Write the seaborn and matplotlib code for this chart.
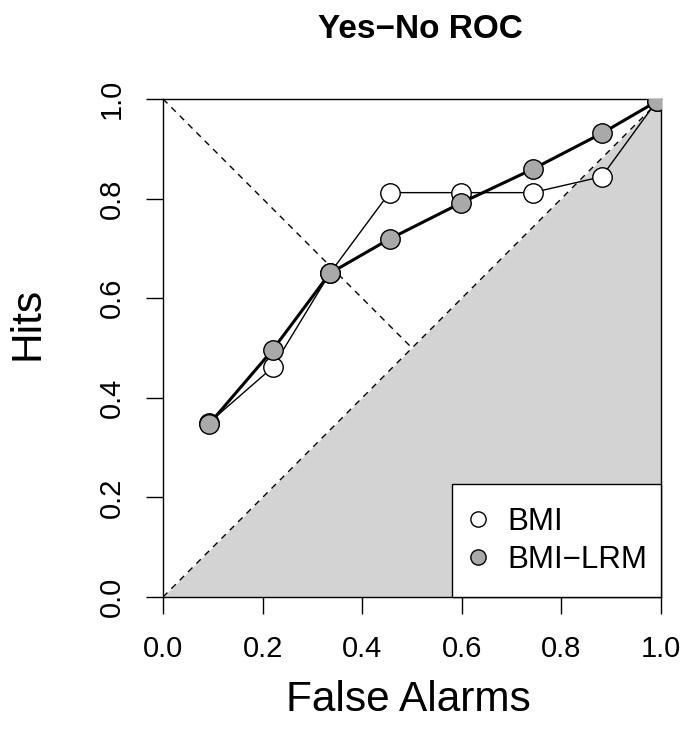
import numpy as np
import pandas as pd
import matplotlib
matplotlib.use("Agg")
import matplotlib.pyplot as plt
from matplotlib.lines import Line2D
import seaborn as sns

# ROC points
false_alarms = [0.0925, 0.220, 0.335, 0.455, 0.598, 0.742, 0.881, 0.991]
hits_bmi = [0.350, 0.461, 0.650, 0.812, 0.812, 0.812, 0.844, 0.995]
hits_bmi_lrm = [0.347, 0.496, 0.650, 0.719, 0.791, 0.859, 0.931, 0.995]
series_names = ["BMI", "BMI\u2212LRM"]
tick_values = [0.0, 0.2, 0.4, 0.6, 0.8, 1.0]
tick_labels = ["0.0", "0.2", "0.4", "0.6", "0.8", "1.0"]

sns.set_style("white")
plt.rcParams["font.family"] = ["Liberation Sans", "DejaVu Sans"]
plt.rcParams["text.color"] = "black"
plt.rcParams["xtick.color"] = "black"
plt.rcParams["ytick.color"] = "black"

df_bmi = pd.DataFrame({"fa": false_alarms, "hits": hits_bmi})
df_lrm = pd.DataFrame({"fa": false_alarms, "hits": hits_bmi_lrm})

fig = plt.figure(figsize=(6.83, 7.47), dpi=100)
ax = fig.add_axes([163 / 683, 1 - 597 / 747, 498 / 683, 498 / 747])

# chance region below the diagonal
ax.fill_between([0, 1], [0, 0], [0, 1], color="#D3D3D3", linewidth=0, zorder=0)
ax.plot([0, 1], [0, 1], color="black", lw=1, dashes=(4.5, 4), zorder=1)
ax.plot([0, 0.5], [1, 0.5], color="black", lw=1, dashes=(4.5, 4), zorder=1)

sns.lineplot(data=df_bmi, x="fa", y="hits", ax=ax, color="black", lw=1,
             marker="o", markersize=14, markerfacecolor="white",
             markeredgecolor="black", markeredgewidth=1, estimator=None, zorder=3)
sns.lineplot(data=df_lrm, x="fa", y="hits", ax=ax, color="black", lw=2.2,
             marker="o", markersize=14, markerfacecolor="#A9A9A9",
             markeredgecolor="black", markeredgewidth=1, estimator=None, zorder=4)

ax.set_xlim(0, 1)
ax.set_ylim(0, 1)
ax.set_xticks(tick_values)
ax.set_xticklabels(tick_labels)
ax.set_yticks(tick_values)
ax.set_yticklabels(tick_labels, rotation=90, va="center")
ax.set_xlabel("")
ax.set_ylabel("")
for s in ax.spines.values():
    s.set_color("black")
    s.set_linewidth(1)
ax.tick_params(axis="both", direction="out", length=12.5, width=1, color="black",
               labelsize=21, labelcolor="black", bottom=True, left=True)
ax.tick_params(axis="x", pad=15)
ax.tick_params(axis="y", pad=14)

handles = [Line2D([], [], marker="o", linestyle="none", markersize=11,
                  markerfacecolor=c, markeredgecolor="black", markeredgewidth=1)
           for c in ["white", "#A9A9A9"]]
leg = ax.legend(handles, series_names, loc="lower left",
                bbox_to_anchor=(0.58, 0, 0.42, 0.3), mode="expand",
                borderaxespad=0, fancybox=False, edgecolor="black",
                framealpha=1, fontsize=22.5, handlelength=0.25,
                handletextpad=0.8, borderpad=0.72, labelspacing=0.25)
leg.get_frame().set_linewidth(1)
for t in leg.get_texts():
    t.set_color("black")

fig.text(420 / 683, 1 - 30 / 747, "Yes\u2212No ROC", ha="center", va="center",
         fontsize=24, fontweight="bold")
fig.text(408 / 683, 1 - 700 / 747, "False Alarms", ha="center", va="center",
         fontsize=30.5)
fig.text(28 / 683, 1 - 323 / 747, "Hits", ha="center", va="center",
         fontsize=30.5, rotation=90)

fig.savefig("out.png", dpi=100)
